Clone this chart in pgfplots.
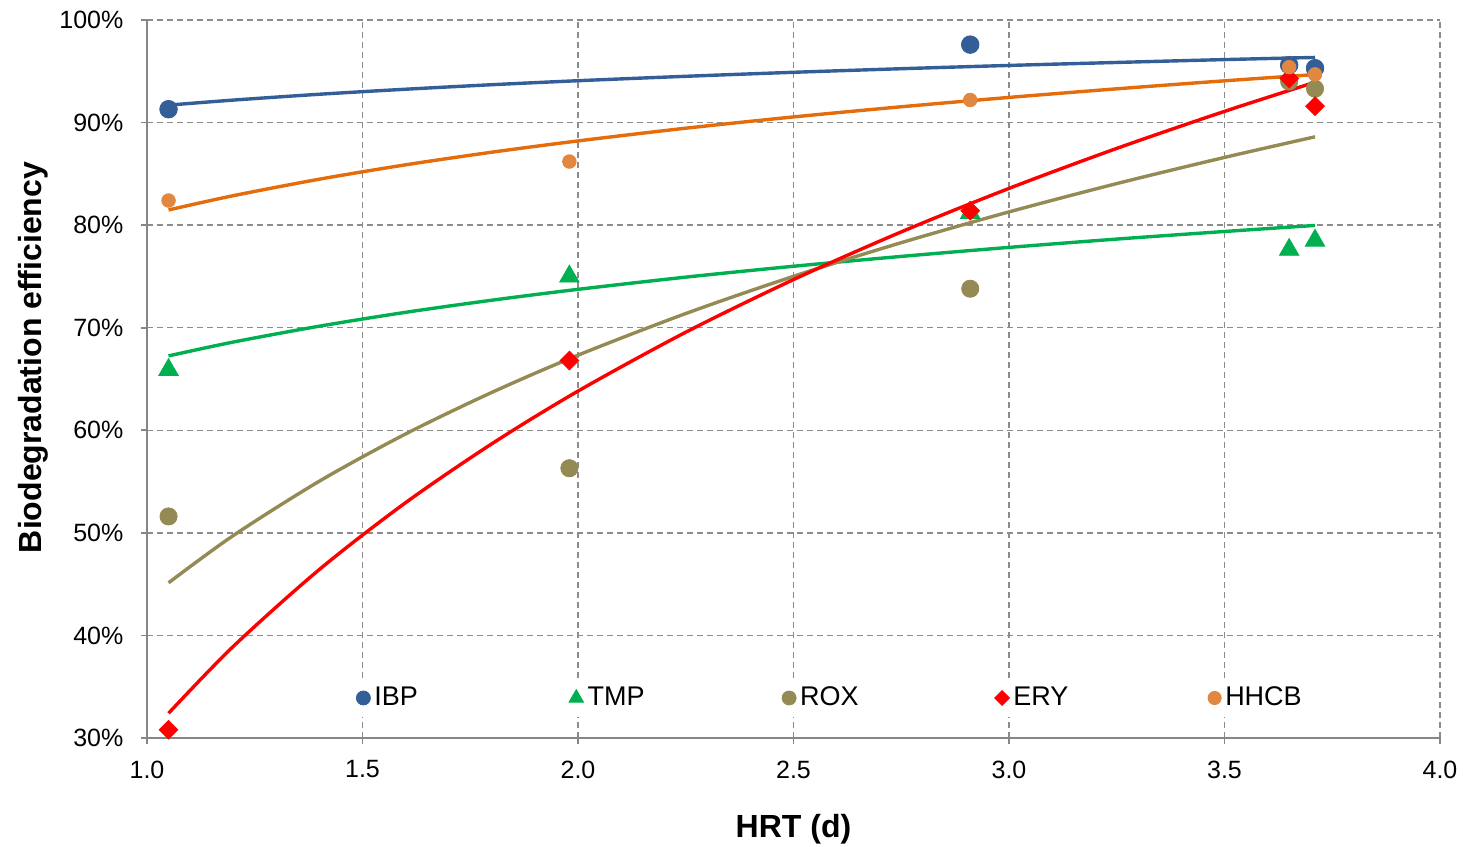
\documentclass[border=0pt]{standalone}
\usepackage{fontspec}
\setmainfont{Liberation Sans}
\usepackage{pgfplots}
\pgfplotsset{compat=1.18}
\definecolor{ibp}{RGB}{52,94,152}
\definecolor{tmp}{RGB}{0,176,80}
\definecolor{rox}{RGB}{148,138,84}
\definecolor{ery}{RGB}{255,0,0}
\definecolor{hhcb}{RGB}{226,135,64}
\definecolor{hhcbline}{RGB}{228,108,10}
\definecolor{gridc}{RGB}{140,140,140}
\definecolor{axisc}{RGB}{134,134,134}
\begin{document}
\begin{tikzpicture}
\begin{axis}[
  scale only axis, width=646.5pt, height=359pt,
  xmin=1, xmax=4, ymin=30, ymax=100,
  xtick={1,1.5,2,2.5,3,3.5,4}, ytick={30,40,50,60,70,80,90,100},
  axis x line*=bottom, axis y line*=left,
  axis line style={-, draw=axisc, line width=0.8pt},
  tick align=outside, major tick length=3pt,
  tick style={axisc, line width=0.8pt},
  grid=major,
  major grid style={gridc, dash pattern=on 3pt off 2pt, line width=0.7pt},
  /pgf/number format/assume math mode=true,
  ticklabel style={font=\fontsize{12.5}{15}\selectfont},
  xticklabel style={/pgf/number format/fixed, /pgf/number format/fixed zerofill, /pgf/number format/precision=1, yshift=-4.8pt},
  yticklabel style={xshift=-5.3pt},
  yticklabel={\pgfmathprintnumber{\tick}\%},
  xlabel={HRT (d)}, ylabel={Biodegradation efficiency},
  label style={font=\bfseries\fontsize{16}{19}\selectfont},
  xlabel style={at={(axis description cs:0.5,-0.1393)}, anchor=base},
  ylabel style={at={(axis description cs:-0.0812,0.53)}, anchor=base},
  legend columns=5,
  legend style={at={(axis description cs:0.157,0.0557)}, anchor=west, draw=none, fill=white,
    font=\fontsize{13.5}{16}\selectfont, /tikz/every even column/.append style={column sep=0pt}},
  legend image code/.code={\draw[#1] plot coordinates {(0pt,0pt)};},
  clip=false,
]
% trendlines (logarithmic fits)
\addplot[ibp, line width=1.7pt, smooth, forget plot] coordinates {
(1.05,91.70) (1.2,92.19) (1.4,92.76) (1.6,93.25) (1.8,93.69) (2.0,94.08) (2.25,94.51)
(2.5,94.90) (2.75,95.25) (3.0,95.57) (3.25,95.86) (3.5,96.14) (3.71,96.35)};
\addplot[tmp, line width=1.7pt, smooth, forget plot] coordinates {
(1.05,67.25) (1.2,68.60) (1.4,70.15) (1.6,71.50) (1.8,72.68) (2.0,73.74) (2.25,74.93)
(2.5,75.99) (2.75,76.95) (3.0,77.83) (3.25,78.64) (3.5,79.38) (3.71,79.97)};
\addplot[rox, line width=1.7pt, smooth, forget plot] coordinates {
(1.05,45.13) (1.2,49.73) (1.4,55.04) (1.6,59.64) (1.8,63.69) (2.0,67.32) (2.25,71.38)
(2.5,75.01) (2.75,78.29) (3.0,81.29) (3.25,84.05) (3.5,86.60) (3.71,88.61)};
\addplot[ery, line width=1.7pt, smooth, forget plot] coordinates {
(1.05,32.41) (1.2,38.92) (1.4,46.43) (1.6,52.94) (1.8,58.68) (2.0,63.82) (2.25,69.56)
(2.5,74.69) (2.75,79.34) (3.0,83.58) (3.25,87.48) (3.5,91.09) (3.71,93.93)};
\addplot[hhcbline, line width=1.7pt, smooth, forget plot] coordinates {
(1.05,81.48) (1.2,82.87) (1.4,84.48) (1.6,85.88) (1.8,87.11) (2.0,88.21) (2.25,89.45)
(2.5,90.55) (2.75,91.54) (3.0,92.45) (3.25,93.29) (3.5,94.07) (3.71,94.68)};
% data points
\addplot[only marks, mark=*, mark size=4.4pt, draw=ibp, fill=ibp, forget plot] coordinates {
(1.05,91.3) (2.91,97.6) (3.65,95.6) (3.71,95.3)};
\addplot[only marks, mark=triangle*, mark size=5.6pt, draw=tmp, fill=tmp, forget plot] coordinates {
(1.05,65.9) (1.98,75.0) (2.91,81.2) (3.65,77.6) (3.71,78.5)};
\addplot[only marks, mark=*, mark size=4.3pt, draw=rox, fill=rox, forget plot] coordinates {
(1.05,51.6) (1.98,56.3) (2.91,73.8) (3.65,94.0) (3.71,93.3)};
\addplot[only marks, mark=square*, mark size=3.3pt, mark options={rotate=45}, draw=ery, fill=ery, forget plot] coordinates {
(1.05,30.8) (1.98,66.8) (2.91,81.4) (3.65,94.3) (3.71,91.6)};
\addplot[only marks, mark=*, mark size=3.4pt, draw=hhcb, fill=hhcb, forget plot] coordinates {
(1.05,82.4) (1.98,86.2) (2.91,92.2) (3.65,95.4) (3.71,94.7)};
% legend
\addlegendimage{only marks, mark=*, mark size=3.5pt, draw=ibp, fill=ibp}
\addlegendentry{\makebox[95.3pt][l]{IBP}}
\addlegendimage{only marks, mark=triangle*, mark size=4.2pt, draw=tmp, fill=tmp}
\addlegendentry{\makebox[95.3pt][l]{TMP}}
\addlegendimage{only marks, mark=*, mark size=3.5pt, draw=rox, fill=rox}
\addlegendentry{\makebox[95.3pt][l]{ROX}}
\addlegendimage{only marks, mark=square*, mark size=2.6pt, mark options={rotate=45}, draw=ery, fill=ery}
\addlegendentry{\makebox[95.3pt][l]{ERY}}
\addlegendimage{only marks, mark=*, mark size=3.3pt, draw=hhcb, fill=hhcb}
\addlegendentry{HHCB}
\end{axis}
\pgfresetboundingbox
\path ([shift={(-73.5pt,-54.5pt)}]current axis.south west) rectangle ([shift={(11.5pt,10pt)}]current axis.north east);
\end{tikzpicture}
\end{document}
